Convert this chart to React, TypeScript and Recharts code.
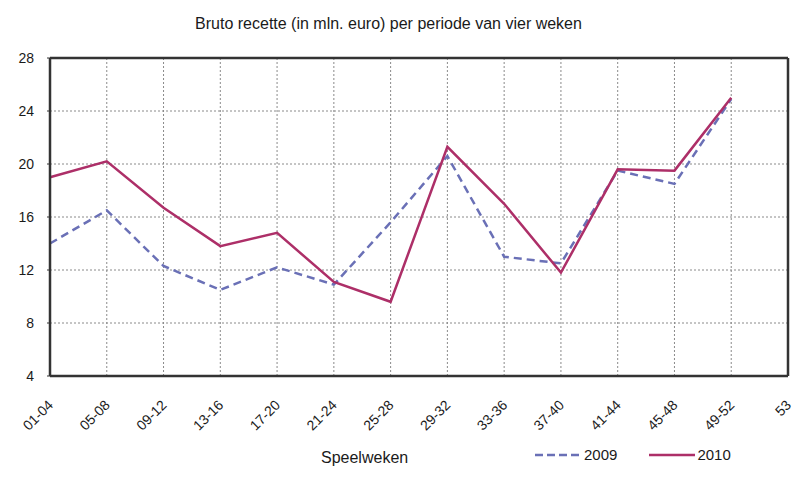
import { CartesianGrid, Line, LineChart, ReferenceLine, XAxis, YAxis } from "recharts";

const periods = ["01-04", "05-08", "09-12", "13-16", "17-20", "21-24", "25-28", "29-32", "33-36", "37-40", "41-44", "45-48", "49-52", "53"];
const recette2009 = [14.0, 16.5, 12.3, 10.5, 12.2, 10.9, 15.6, 20.6, 13.0, 12.5, 19.5, 18.5, 24.9, null];
const recette2010 = [19.0, 20.2, 16.7, 13.8, 14.8, 11.1, 9.6, 21.3, 17.0, 11.8, 19.6, 19.5, 25.0, null];
const yTicks = [4, 8, 12, 16, 20, 24, 28];

const data = periods.map((period, i) => ({ period, y2009: recette2009[i], y2010: recette2010[i] }));

const FONT = '"Liberation Sans", Arial, sans-serif';
const COLOR_2009 = "#6a70b6";
const COLOR_2010 = "#ad2f68";
const FRAME = "#333";
const TEXT = "#1a1a1a";

function PeriodTick({ x, y, payload }: { x: number; y: number; payload: { value: string } }) {
  const tx = x + 4;
  const ty = y + 30;
  return (
    <text x={tx} y={ty} transform={`rotate(-45 ${tx} ${ty})`} textAnchor="end" fontSize={14} fill={TEXT} fontFamily={FONT}>
      {payload.value}
    </text>
  );
}

export default function App() {
  return (
    <div style={{ position: "relative", width: 810, height: 477, background: "#fff", fontFamily: FONT }}>
      <style>{"body{margin:0}"}</style>
      <div style={{ position: "absolute", left: 0, width: 777, top: 15, textAlign: "center", fontSize: 16, color: TEXT }}>
        Bruto recette (in mln. euro) per periode van vier weken
      </div>
      <LineChart width={810} height={477} data={data} margin={{ top: 58, right: 22, bottom: 0, left: 16 }}>
        <CartesianGrid stroke="#8a8a8a" strokeDasharray="2 2" />
        <XAxis dataKey="period" height={101} tick={PeriodTick} tickLine={false} tickSize={0} tickMargin={0} axisLine={{ stroke: FRAME, strokeWidth: 2.5 }} interval={0} />
        <YAxis
          domain={[4, 28]}
          ticks={yTicks}
          width={34}
          tickSize={3}
          tickMargin={13}
          tickLine={{ stroke: FRAME }}
          axisLine={{ stroke: FRAME, strokeWidth: 2.5 }}
          tick={{ fontSize: 14, fill: TEXT, fontFamily: FONT }}
        />
        <ReferenceLine y={28} stroke={FRAME} strokeWidth={2.5} />
        <ReferenceLine x="53" stroke={FRAME} strokeWidth={2.5} />
        <Line dataKey="y2009" stroke={COLOR_2009} strokeWidth={2.5} strokeDasharray="8 5" dot={false} isAnimationActive={false} />
        <Line dataKey="y2010" stroke={COLOR_2010} strokeWidth={2.5} dot={false} isAnimationActive={false} />
      </LineChart>
      <div style={{ position: "absolute", left: 321, top: 449, fontSize: 16, color: TEXT }}>Speelweken</div>
      <div style={{ position: "absolute", left: 535, top: 446, display: "flex", alignItems: "center", fontSize: 15, color: TEXT }}>
        <svg width={44} height={4}>
          <line x1={0} y1={2} x2={44} y2={2} stroke={COLOR_2009} strokeWidth={2.5} strokeDasharray="8 4" />
        </svg>
        <span style={{ marginLeft: 5 }}>2009</span>
        <svg width={46} height={4} style={{ marginLeft: 32 }}>
          <line x1={0} y1={2} x2={46} y2={2} stroke={COLOR_2010} strokeWidth={2.5} />
        </svg>
        <span style={{ marginLeft: 2 }}>2010</span>
      </div>
    </div>
  );
}
